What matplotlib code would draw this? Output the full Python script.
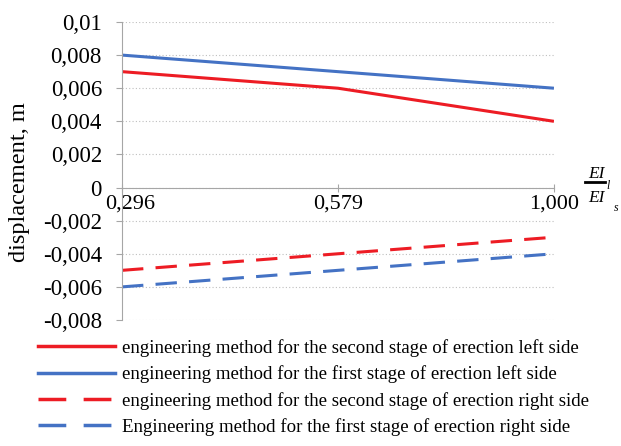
import matplotlib.pyplot as plt
import matplotlib.transforms as mtransforms
from matplotlib.lines import Line2D

plt.rcParams["font.family"] = ["Liberation Serif", "DejaVu Serif"]

# ----------------------------------------------------------
# Data
# ----------------------------------------------------------

ratios = ["0,296", "0,579", "1,000"]

second_left = [0.007, 0.006, 0.004]
first_left = [0.008, 0.007, 0.006]
second_right = [-0.005, -0.004, -0.003]
first_right = [-0.006, -0.005, -0.004]

y_ticks = [0.01, 0.008, 0.006, 0.004, 0.002, 0, -0.002, -0.004, -0.006, -0.008]
y_tick_labels = ["0,01", "0,008", "0,006", "0,004", "0,002", "0",
                 "-0,002", "-0,004", "-0,006", "-0,008"]

labels = [
    "engineering method for the second stage of erection left side",
    "engineering method for the first stage of erection left side",
    "engineering method for the second stage of erection right side",
    "Engineering method for the first stage of erection right side",
]

RED = "#ED1C24"
BLUE = "#4472C4"
AXIS = "#A6A6A6"

fig = plt.figure(figsize=(6.21, 4.46), dpi=100)
ax = fig.add_axes([0.1965, 0.2825, 0.6955, 0.6682])

# spine position first, it resets the tick setup
for side in ["top", "right"]:
    ax.spines[side].set_visible(False)
ax.spines["bottom"].set_position(("data", 0))
ax.spines["bottom"].set_color(AXIS)
ax.spines["left"].set_color(AXIS)

x = list(range(len(ratios)))
lw = 2.2
dash = (7, 4)

ax.plot(x, second_left, color=RED, lw=lw, solid_capstyle="butt")
ax.plot(x, first_left, color=BLUE, lw=lw, solid_capstyle="butt")
ax.plot(x, second_right, color=RED, lw=lw, dashes=dash, dash_capstyle="butt")
ax.plot(x, first_right, color=BLUE, lw=lw, dashes=dash, dash_capstyle="butt")

ax.set_xlim(0, len(ratios) - 1)
ax.set_ylim(-0.008, 0.01)
ax.set_yticks(y_ticks)
ax.set_yticklabels(y_tick_labels)
ax.set_xticks(x)
ax.set_xticklabels(ratios)

ax.grid(axis="y", color="#BFBFBF", linestyle=(0, (1, 2)), lw=0.8)
ax.set_axisbelow(True)

ax.tick_params(axis="y", direction="out", length=4, color=AXIS, pad=10.5,
               labelsize=16.5)
ax.tick_params(axis="x", direction="inout", length=6, color=AXIS, pad=2,
               labelsize=16)

# first category label sits a little right of its tick
first = ax.get_xticklabels()[0]
first.set_transform(first.get_transform()
                    + mtransforms.ScaledTranslation(8 / 100, 0, fig.dpi_scale_trans))

ax.set_ylabel("displacement, m", fontsize=17.6)
ax.yaxis.set_label_coords(-0.213, 0.463)

# ----------------------------------------------------------
# EI_l / EI_s axis title
# ----------------------------------------------------------

fig.text(0.947, 0.601, "EI", fontsize=12.5, style="italic", va="baseline")
fig.text(0.977, 0.576, "l", fontsize=8.5, style="italic", va="baseline")
fig.add_artist(Line2D([0.942, 0.974], [0.592, 0.592], color="black", lw=2))
fig.text(0.947, 0.547, "EI", fontsize=12.5, style="italic", va="baseline")
fig.text(0.988, 0.527, "s", fontsize=8.5, style="italic", va="baseline")

# ----------------------------------------------------------
# Legend
# ----------------------------------------------------------

handles = [
    Line2D([], [], color=RED, lw=2.5),
    Line2D([], [], color=BLUE, lw=2.5),
    Line2D([], [], color=RED, lw=2.5, dashes=(8, 5)),
    Line2D([], [], color=BLUE, lw=2.5, dashes=(8, 5)),
]
fig.legend(handles, labels, loc="upper left", bbox_to_anchor=(0.061, 0.240),
           frameon=False, fontsize=13.55, handlelength=4.1, handletextpad=0.37,
           labelspacing=0.45, borderpad=0, borderaxespad=0)

fig.savefig("out.png", dpi=100)
